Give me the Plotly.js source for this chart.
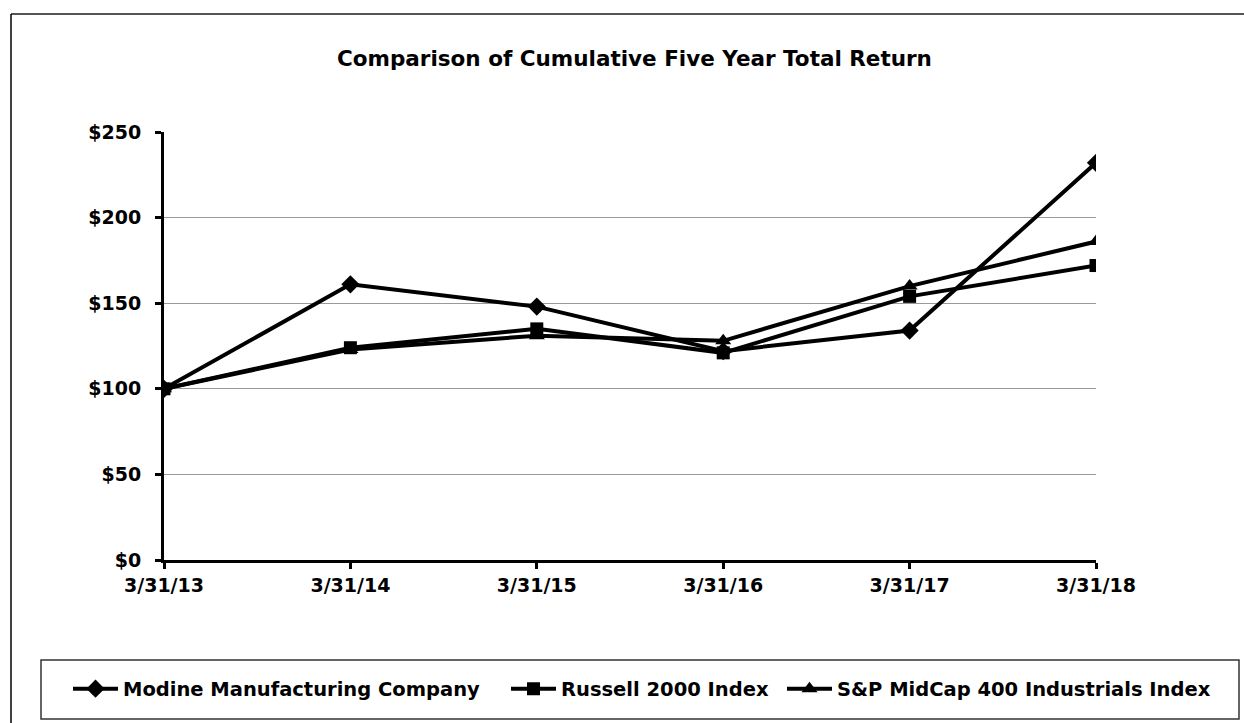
<!DOCTYPE html>
<html>
<head>
<meta charset="utf-8">
<script src="https://cdn.plot.ly/plotly-3.0.1.min.js"></script>
<style>html,body{margin:0;padding:0;background:#fff;}#chart{width:1244px;height:723px;}</style>
</head>
<body>
<div id="chart"></div>
<script>
const categories = ["3/31/13", "3/31/14", "3/31/15", "3/31/16", "3/31/17", "3/31/18"];
const modine = [100, 161, 148, 122, 134, 232];
const russell = [100, 124, 135, 121, 154, 172];
const spMidcap = [100, 123, 131, 128, 160, 186];
const yTickVals = [0, 50, 100, 150, 200, 250];
const yTickText = ["$0", "$50", "$100", "$150", "$200", "$250"];
const seriesNames = ["Modine Manufacturing Company", "Russell 2000 Index", "S&P MidCap 400 Industrials Index"];

const FONT = "DejaVu Sans, Liberation Sans, Arial, sans-serif";
const W = 1244, H = 723;
const L = 164, R = 1096, T = 132, B = 560;
const px = v => (v - L) / (R - L);
const py = v => (B - v) / (B - T);

function trace(y, name, symbol, size, legendId) {
  return {
    x: categories, y: y, name: name, type: 'scatter', mode: 'lines+markers',
    legend: legendId,
    line: {color: '#000', width: 4},
    marker: {symbol: symbol, size: size, color: '#000', line: {width: 0}}
  };
}

const data = [
  trace(modine, seriesNames[0], 'diamond', 14, 'legend'),
  trace(russell, seriesNames[1], 'square', 13, 'legend2'),
  trace(spMidcap, seriesNames[2], 'triangle-up', 14, 'legend3')
];

const tickFont = {family: FONT, size: 19, color: '#000', weight: 'bold'};

function legendAt(xPix) {
  return {
    orientation: 'h', xref: 'container', yref: 'container',
    x: xPix / W, xanchor: 'left', y: 1 - 689 / H, yanchor: 'middle',
    bgcolor: 'rgba(0,0,0,0)', borderwidth: 0,
    font: {family: FONT, size: 19.5, color: '#000', weight: 'bold'},
    itemwidth: 45
  };
}

const layout = {
  width: W, height: H,
  paper_bgcolor: '#fff', plot_bgcolor: '#fff',
  margin: {l: L, r: W - R, t: T, b: H - B, pad: 0, autoexpand: false},
  font: {family: FONT, color: '#000', size: 19, weight: 'bold'},
  title: {text: '<b>Comparison of Cumulative Five Year Total Return</b>', x: 0.51, xref: 'container', y: 1 - 58 / H, yref: 'container', yanchor: 'middle', font: {family: FONT, size: 21.5, color: '#000'}},
  xaxis: {
    type: 'category', range: [0, 5], showgrid: false, zeroline: false,
    showline: true, linecolor: '#000', linewidth: 3,
    ticks: 'outside', ticklen: 6, tickwidth: 3, tickcolor: '#000',
    tickfont: tickFont
  },
  yaxis: {
    range: [0, 250], tickvals: yTickVals, ticktext: yTickText,
    showgrid: true, gridcolor: '#999', gridwidth: 1, zeroline: false,
    showline: true, linecolor: '#000', linewidth: 3,
    ticks: 'outside', ticklen: 6, tickwidth: 3, tickcolor: '#000',
    ticklabelstandoff: 10,
    tickfont: tickFont
  },
  showlegend: true,
  legend: legendAt(68),
  legend2: legendAt(506),
  legend3: legendAt(782),
  shapes: [
    {type: 'rect', xref: 'paper', yref: 'paper', x0: px(41), x1: px(1239), y0: py(660), y1: py(719), line: {color: '#333', width: 1.5}, fillcolor: 'rgba(0,0,0,0)'},
    {type: 'line', xref: 'paper', yref: 'paper', x0: px(11), x1: px(1244), y0: py(14), y1: py(14), line: {color: '#555', width: 2}},
    {type: 'line', xref: 'paper', yref: 'paper', x0: px(11), x1: px(11), y0: py(14), y1: py(723), line: {color: '#000', width: 1.5}}
  ]
};

Plotly.newPlot('chart', data, layout, {displayModeBar: false, staticPlot: true});
</script>
</body>
</html>
